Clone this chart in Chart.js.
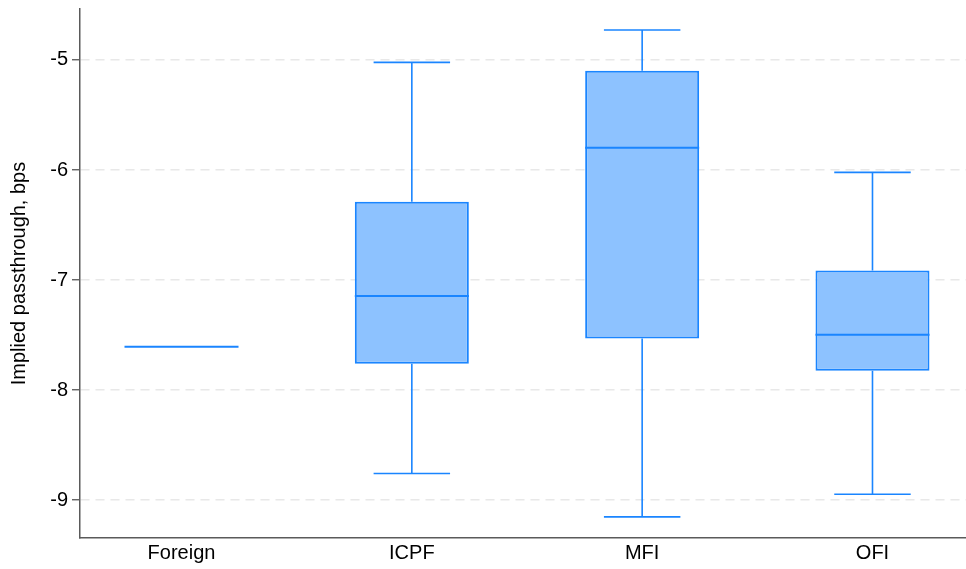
<!DOCTYPE html>
<html>
<head>
<meta charset="utf-8">
<script src="https://cdn.jsdelivr.net/npm/chart.js@4"></script>
<style>
  html, body { margin: 0; padding: 0; background: #ffffff; }
  #c { display: block; }
</style>
</head>
<body>
<canvas id="c" width="966" height="569"></canvas>
<script>
// ---- data ----
const categories   = ['Foreign', 'ICPF', 'MFI', 'OFI'];
const whiskerLow   = [-7.606, -8.757, -9.151, -8.945];
const quartile1    = [-7.606, -7.759, -7.530, -7.824];
const medians      = [-7.606, -7.144, -5.798, -7.497];
const quartile3    = [-7.606, -6.289, -5.098, -6.912];
const whiskerHigh  = [-7.606, -5.022, -4.728, -6.021];
const yTickValues  = [-9, -8, -7, -6, -5];
const yAxisTitle   = 'Implied passthrough, bps';

const LINE = 'rgb(26,133,255)';
const FILL = 'rgb(141,194,255)';
const BOX_HALF = 0.2475;   // half box width in category units
const CAP_HALF = 0.166;    // half whisker-cap width

const boxWhiskerPlugin = {
  id: 'boxWhisker',
  afterDatasetsDraw(chart) {
    const ctx = chart.ctx;
    const xs = chart.scales.x, ys = chart.scales.y;
    ctx.save();
    ctx.strokeStyle = LINE;
    categories.forEach((c, i) => {
      const xc = xs.getPixelForValue(i);
      const yq1 = ys.getPixelForValue(quartile1[i]);
      const yq3 = ys.getPixelForValue(quartile3[i]);
      const ylo = ys.getPixelForValue(whiskerLow[i]);
      const yhi = ys.getPixelForValue(whiskerHigh[i]);
      const ym  = ys.getPixelForValue(medians[i]);
      const capL = xs.getPixelForValue(i - CAP_HALF), capR = xs.getPixelForValue(i + CAP_HALF);
      const boxL = xs.getPixelForValue(i - BOX_HALF), boxR = xs.getPixelForValue(i + BOX_HALF);
      ctx.lineWidth = 1.6;
      if (whiskerHigh[i] > quartile3[i]) {
        ctx.beginPath();
        ctx.moveTo(xc, yq3); ctx.lineTo(xc, yhi);
        ctx.moveTo(capL, yhi); ctx.lineTo(capR, yhi);
        ctx.stroke();
      }
      if (whiskerLow[i] < quartile1[i]) {
        ctx.beginPath();
        ctx.moveTo(xc, yq1); ctx.lineTo(xc, ylo);
        ctx.moveTo(capL, ylo); ctx.lineTo(capR, ylo);
        ctx.stroke();
      }
      ctx.lineWidth = 2;
      ctx.beginPath();
      ctx.moveTo(boxL, ym); ctx.lineTo(boxR, ym);
      ctx.stroke();
    });
    ctx.restore();
  }
};

new Chart(document.getElementById('c'), {
  type: 'bar',
  data: {
    datasets: [{
      data: categories.map((c, i) => ({ x: i, y: [quartile1[i], quartile3[i]] })),
      backgroundColor: FILL,
      borderColor: LINE,
      borderWidth: 2,
      borderSkipped: false,
      categoryPercentage: 1,
      barPercentage: BOX_HALF * 2
    }]
  },
  options: {
    responsive: false,
    animation: false,
    devicePixelRatio: 1,
    layout: { padding: { top: 9, right: 0, left: 0, bottom: 0 } },
    plugins: { legend: { display: false }, tooltip: { enabled: false } },
    scales: {
      x: {
        type: 'linear',
        offset: false,
        min: -0.4407,
        max: 3.406,
        afterBuildTicks: s => { s.ticks = categories.map((c, i) => ({ value: i })); },
        afterFit: s => { s.height = 31; s.paddingLeft = 0; s.paddingRight = 0; },
        grid: { display: false, drawTicks: false, offset: false },
        border: { display: true, color: '#5a5a5a', width: 1.5 },
        ticks: {
          padding: 3,
          autoSkip: false,
          maxRotation: 0,
          color: '#000',
          font: { family: 'Liberation Sans, Arial, sans-serif', size: 20 },
          callback: v => categories[v]
        }
      },
      y: {
        type: 'linear',
        min: -9.343,
        max: -4.537,
        afterBuildTicks: s => { s.ticks = yTickValues.map(v => ({ value: v })); },
        afterFit: s => { s.width = 80; s.paddingTop = 0; s.paddingBottom = 0; },
        grid: {
          color: '#e8e8e8',
          lineWidth: 1.5,
          drawTicks: true,
          tickLength: 8,
          tickColor: '#555',
          tickWidth: 1.3,
          tickBorderDash: []
        },
        border: { display: true, color: '#5a5a5a', width: 1.5, dash: [9, 6] },
        ticks: {
          padding: 4,
          color: '#000',
          font: { family: 'Liberation Sans, Arial, sans-serif', size: 20 },
          callback: v => String(v)
        },
        title: {
          display: true,
          text: yAxisTitle,
          color: '#000',
          font: { family: 'Liberation Sans, Arial, sans-serif', size: 20 },
          padding: { top: 7, bottom: 0 }
        }
      }
    }
  },
  plugins: [boxWhiskerPlugin]
});
</script>
</body>
</html>
